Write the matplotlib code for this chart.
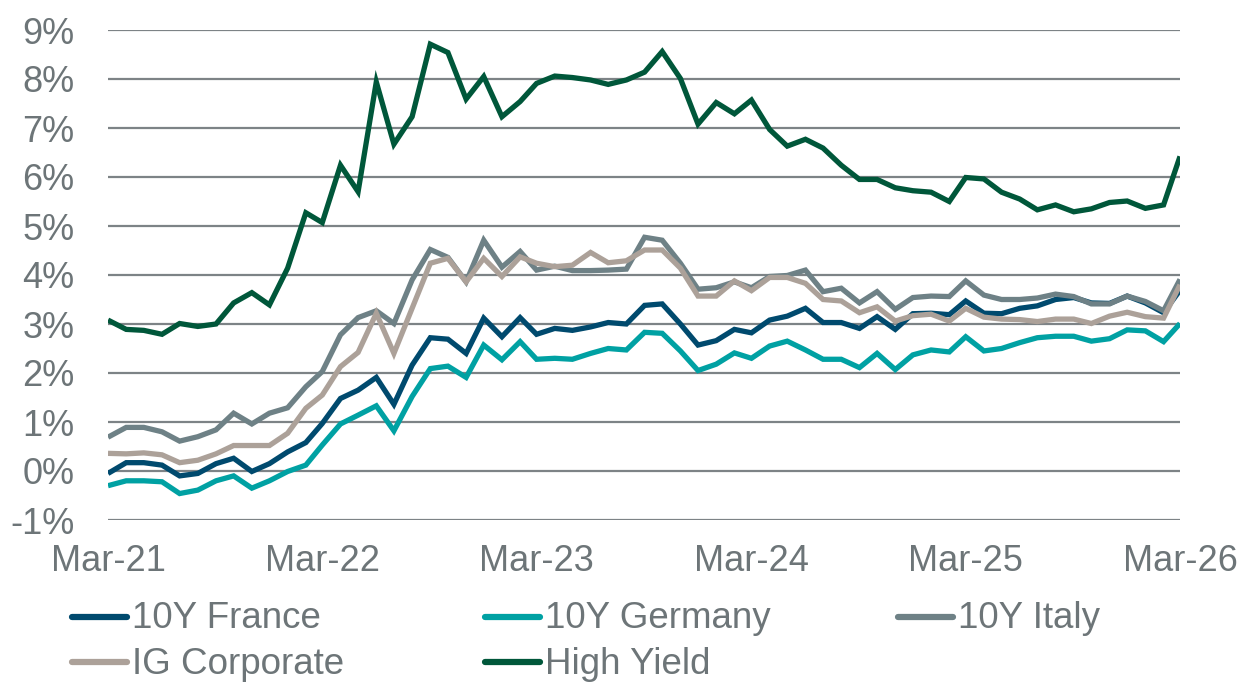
import matplotlib
matplotlib.use("Agg")
import matplotlib.pyplot as plt
from matplotlib.lines import Line2D
import pandas as pd

plt.rcParams['font.family'] = ['Liberation Sans', 'DejaVu Sans']

dates = pd.date_range('2021-03-01', periods=61, freq='MS')

france = [-0.05, 0.17, 0.17, 0.12, -0.10, -0.05, 0.15, 0.26, -0.01, 0.15, 0.39, 0.58, 0.97, 1.48, 1.65,
          1.91, 1.36, 2.16, 2.72, 2.69, 2.40, 3.12, 2.74, 3.13, 2.79, 2.91, 2.87, 2.94, 3.03, 3.00, 3.38,
          3.41, 3.00, 2.57, 2.66, 2.89, 2.82, 3.08, 3.16, 3.32, 3.03, 3.03, 2.91, 3.15, 2.89, 3.21,
          3.22, 3.19, 3.47, 3.22, 3.21, 3.32, 3.37, 3.50, 3.54, 3.43, 3.42, 3.57, 3.43, 3.23, 3.69]
germany = [-0.30, -0.20, -0.20, -0.22, -0.46, -0.39, -0.20, -0.10, -0.35, -0.20, -0.01, 0.12, 0.53, 0.96, 1.14,
           1.33, 0.82, 1.52, 2.09, 2.14, 1.91, 2.57, 2.27, 2.64, 2.28, 2.30, 2.28, 2.40, 2.50, 2.47, 2.83,
           2.81, 2.45, 2.05, 2.18, 2.41, 2.30, 2.55, 2.65, 2.47, 2.28, 2.28, 2.11, 2.40, 2.07, 2.37,
           2.47, 2.43, 2.74, 2.45, 2.50, 2.62, 2.72, 2.75, 2.75, 2.65, 2.70, 2.88, 2.86, 2.64, 3.01]
italy = [0.69, 0.89, 0.89, 0.80, 0.61, 0.70, 0.84, 1.18, 0.96, 1.18, 1.29, 1.72, 2.03, 2.78, 3.13,
         3.27, 3.01, 3.90, 4.52, 4.36, 3.86, 4.71, 4.16, 4.48, 4.10, 4.18, 4.09, 4.09, 4.10, 4.12, 4.77,
         4.71, 4.24, 3.71, 3.74, 3.86, 3.74, 3.97, 3.99, 4.10, 3.66, 3.73, 3.43, 3.66, 3.30, 3.54,
         3.57, 3.56, 3.88, 3.59, 3.50, 3.50, 3.53, 3.61, 3.56, 3.41, 3.41, 3.57, 3.46, 3.27, 3.91]
ig_corp = [0.36, 0.35, 0.37, 0.33, 0.17, 0.22, 0.35, 0.52, 0.52, 0.52, 0.77, 1.28, 1.55, 2.13, 2.42,
           3.22, 2.40, 3.32, 4.24, 4.34, 3.86, 4.34, 3.97, 4.37, 4.24, 4.17, 4.20, 4.46, 4.25, 4.29, 4.51,
           4.51, 4.14, 3.57, 3.57, 3.88, 3.68, 3.95, 3.95, 3.83, 3.50, 3.47, 3.23, 3.35, 3.06, 3.17,
           3.20, 3.06, 3.32, 3.14, 3.10, 3.09, 3.05, 3.10, 3.10, 3.01, 3.16, 3.24, 3.15, 3.12, 3.80]
high_yield = [3.08, 2.89, 2.87, 2.79, 3.01, 2.95, 3.00, 3.43, 3.64, 3.39, 4.14, 5.27, 5.07, 6.24, 5.70,
              7.94, 6.67, 7.23, 8.71, 8.54, 7.59, 8.05, 7.23, 7.54, 7.91, 8.06, 8.03, 7.98, 7.89, 7.98, 8.14,
              8.56, 8.01, 7.08, 7.52, 7.29, 7.57, 6.97, 6.63, 6.77, 6.59, 6.24, 5.95, 5.95, 5.78, 5.72,
              5.69, 5.50, 5.99, 5.96, 5.69, 5.55, 5.33, 5.43, 5.29, 5.35, 5.48, 5.51, 5.36, 5.43, 6.42]

series = [
    ("10Y France", france, "#004A6E"),
    ("10Y Germany", germany, "#00A1A3"),
    ("10Y Italy", italy, "#6E8186"),
    ("IG Corporate", ig_corp, "#ACA199"),
    ("High Yield", high_yield, "#00573A"),
]

text_color = "#6D7578"
grid_color = "#7D8386"
W, H = 1241, 687

fig = plt.figure(figsize=(W/100, H/100), dpi=100)
ax = fig.add_axes([108/W, 1-520/H, (1180-108)/W, (520-30)/H])

for name, vals, col in series:
    ax.plot(dates, vals, color=col, lw=3.8, label=name, solid_joinstyle='miter', solid_capstyle='butt')

ax.set_xlim(dates[0], dates[-1])
ax.set_ylim(-1, 9)
ax.set_yticks(range(-1, 10))
ax.set_yticklabels([f"{v}%" for v in range(-1, 10)])
ax.set_xticks(dates[::12])
ax.set_xticklabels([d.strftime("%b-%y") for d in dates[::12]])
ax.yaxis.grid(True, color=grid_color, lw=1.6)
ax.set_axisbelow(True)
for s in ax.spines.values():
    s.set_visible(False)
ax.tick_params(axis='both', length=0, labelsize=26, colors=text_color)
ax.tick_params(axis='y', pad=24)
ax.tick_params(axis='x', pad=17)

# legend: 3 equal-width columns, filled row by row
col_x = [72, 485, 898]
row_y = [616.5, 661.5]
handle_len = 55
for k, (name, vals, col) in enumerate(series):
    r, c = divmod(k, 3)
    x0, yc = col_x[c], row_y[r]
    fig.add_artist(Line2D([x0/W, (x0+handle_len)/W], [1-yc/H, 1-yc/H], color=col, lw=4.5,
                          solid_capstyle='round', transform=fig.transFigure))
    fig.text((x0+handle_len+5)/W, 1-(yc+12)/H, name, fontsize=26.5, color=text_color,
             ha='left', va='baseline')

fig.savefig("out.png", dpi=100)
